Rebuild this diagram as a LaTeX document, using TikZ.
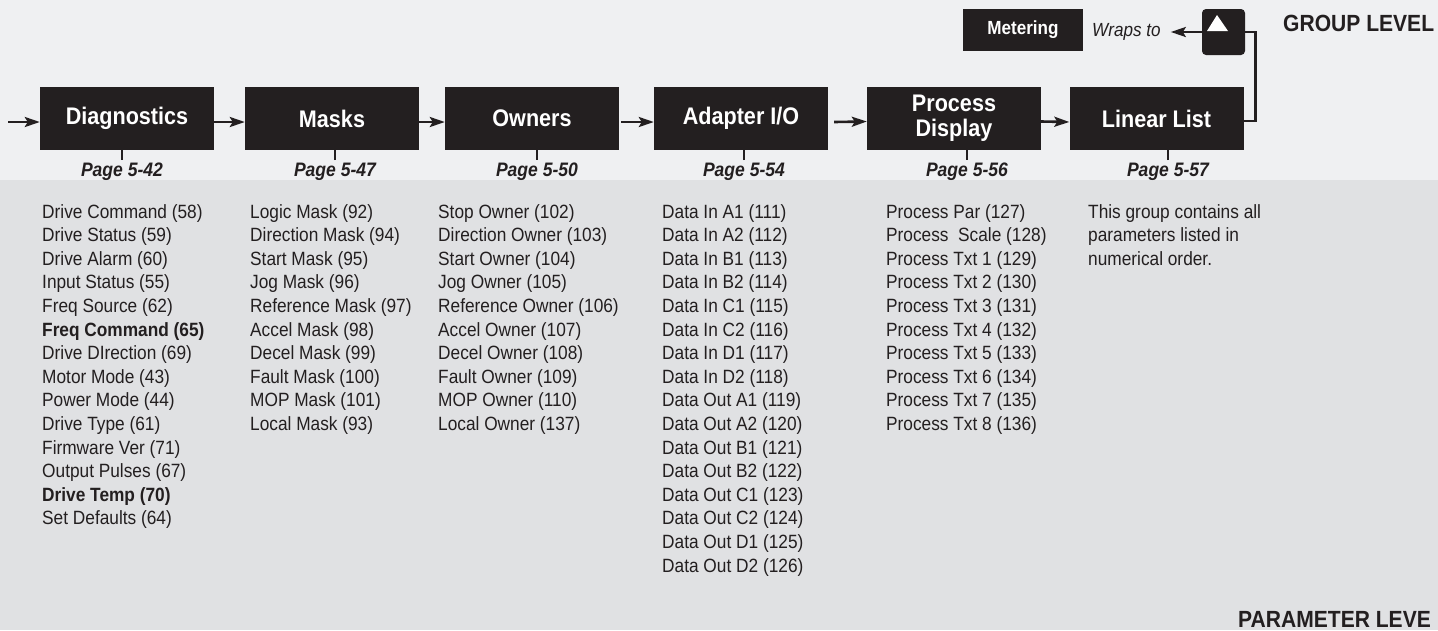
\documentclass[tikz,border=0pt]{standalone}
\usepackage{fontspec}
\setmainfont{Liberation Sans}[FakeStretch=0.9]
\usetikzlibrary{arrows.meta}
\definecolor{ink}{HTML}{231F20}
\definecolor{topbg}{RGB}{239,240,242}
\definecolor{botbg}{RGB}{224,225,227}
\begin{document}
\begin{tikzpicture}[x=1pt,y=-1pt,
  grp/.style={fill=ink, text=white, font=\bfseries\fontsize{24}{25}\selectfont, minimum width=174pt, minimum height=63pt, inner sep=0pt, align=center},
  arr/.style={draw=ink, line width=2.6pt, -{Stealth[length=15pt,width=10pt,inset=3pt]}},
  ln/.style={draw=ink, line width=2.6pt},
  pg/.style={font=\bfseries\itshape\fontsize{19.5}{20}\selectfont, text=ink, inner sep=0pt},
  lst/.style={font=\fontsize{19.2}{23.6}\selectfont, text=ink, inner sep=0pt, anchor=base west},
  lvl/.style={font=\bfseries\fontsize{23.4}{25}\selectfont, text=ink, inner sep=0pt},
]
\useasboundingbox (0,0) rectangle (1438,630);
\fill[topbg] (0,0) rectangle (1438,180);
\fill[botbg] (0,180) rectangle (1438,630);

% group boxes
\node[grp] (diag) at (127,118.5) {Diagnostics};
\node[grp] (mask) at (332,118.5) {Masks};
\node[grp] (own) at (532,118.5) {Owners};
\node[grp] (adp) at (741,118.5) {Adapter I/O};
\node[grp] (proc) at (954,118) {Process\\Display};
\node[grp] (ll) at (1156.5,118.5) {Linear List};

% chain arrows
\coordinate (in) at (8,122);
\draw[arr] (in) -- ([yshift=-3.5pt]diag.west);
\draw[arr] ([yshift=-3.5pt]diag.east) -- ([yshift=-3.5pt]mask.west);
\draw[arr] ([yshift=-3.5pt]mask.east) -- ([yshift=-3.5pt]own.west);
\draw[arr] ([yshift=-3.5pt,xshift=2pt]own.east) -- ([yshift=-3.5pt]adp.west);
\draw[arr] ([yshift=-3.5pt,xshift=6pt]adp.east) -- ([yshift=-3.5pt]proc.west);
\draw[arr] ([yshift=-3.5pt]proc.east) -- ([yshift=-3.5pt]ll.west);

% page labels
\node[pg] (p1) at (122,172) {Page 5-42};
\node[pg] (p2) at (335,172) {Page 5-47};
\node[pg] (p3) at (537,172) {Page 5-50};
\node[pg] (p4) at (744,172) {Page 5-54};
\node[pg] (p5) at (967,172) {Page 5-56};
\node[pg] (p6) at (1168,172) {Page 5-57};
\draw[ln] ([yshift=3pt]p1.north) -- (p1.north |- diag.south);
\draw[ln] ([yshift=3pt]p2.north) -- (p2.north |- mask.south);
\draw[ln] ([yshift=3pt]p3.north) -- (p3.north |- own.south);
\draw[ln] ([yshift=3pt]p4.north) -- (p4.north |- adp.south);
\draw[ln] ([yshift=3pt]p5.north) -- (p5.north |- proc.south);
\draw[ln] ([yshift=3pt]p6.north) -- (p6.north |- ll.south);

% wrap-around
\node[fill=ink, text=white, font=\bfseries\fontsize{19}{20}\selectfont, minimum width=120pt, minimum height=42pt, inner sep=0pt] (met) at (1023,30) {Metering};
\node[font=\itshape\fontsize{19}{20}\selectfont, text=ink, anchor=west, inner sep=0pt] (wr) at (1092,32) {Wraps to};
\node[fill=ink, rounded corners=4pt, minimum width=43pt, minimum height=46pt, inner sep=0pt] (up) at (1223.5,32) {};
\fill[white] (1217,15) -- (1207,31) -- (1228,31) -- cycle;
\draw[arr] (up.west) -- ([xshift=10pt]wr.east);
\draw[ln] ([yshift=-2.5pt]ll.east) -- ++(12,0) |- (up.east);

% level labels
\node[lvl, anchor=west] (gl) at (1283,23) {GROUP LEVEL};
\node[lvl, anchor=west] (pl) at (1238,619) {PARAMETER LEVE};

% parameter lists
\foreach \t [count=\i] in {Drive Command (58), Drive Status (59), Drive Alarm (60), Input Status (55), Freq Source (62), \textbf{Freq Command (65)}, Drive DIrection (69), Motor Mode (43), Power Mode (44), Drive Type (61), Firmware Ver (71), Output Pulses (67), \textbf{Drive Temp (70)}, Set Defaults (64)}
  \node[lst] (d\i) at (42,{218+(\i-1)*23.6}) {\t};
\foreach \t [count=\i] in {Logic Mask (92), Direction Mask (94), Start Mask (95), Jog Mask (96), Reference Mask (97), Accel Mask (98), Decel Mask (99), Fault Mask (100), MOP Mask (101), Local Mask (93)}
  \node[lst] (m\i) at (250,{218+(\i-1)*23.6}) {\t};
\foreach \t [count=\i] in {Stop Owner (102), Direction Owner (103), Start Owner (104), Jog Owner (105), Reference Owner (106), Accel Owner (107), Decel Owner (108), Fault Owner (109), MOP Owner (110), Local Owner (137)}
  \node[lst] (o\i) at (438,{218+(\i-1)*23.6}) {\t};
\foreach \t [count=\i] in {Data In A1 (111), Data In A2 (112), Data In B1 (113), Data In B2 (114), Data In C1 (115), Data In C2 (116), Data In D1 (117), Data In D2 (118), Data Out A1 (119), Data Out A2 (120), Data Out B1 (121), Data Out B2 (122), Data Out C1 (123), Data Out C2 (124), Data Out D1 (125), Data Out D2 (126)}
  \node[lst] (a\i) at (662,{218+(\i-1)*23.6}) {\t};
\foreach \t [count=\i] in {Process Par (127), Process\ \ Scale (128), Process Txt 1 (129), Process Txt 2 (130), Process Txt 3 (131), Process Txt 4 (132), Process Txt 5 (133), Process Txt 6 (134), Process Txt 7 (135), Process Txt 8 (136)}
  \node[lst] (q\i) at (886,{218+(\i-1)*23.6}) {\t};
\foreach \t [count=\i] in {This group contains all, parameters listed in, numerical order.}
  \node[lst] (l\i) at (1088,{218+(\i-1)*23.6}) {\t};
\end{tikzpicture}
\end{document}
